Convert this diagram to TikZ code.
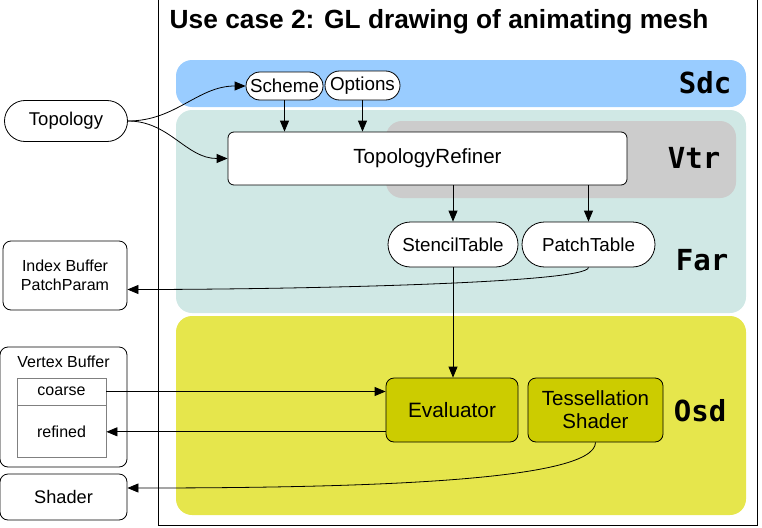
\documentclass[tikz,border=0pt]{standalone}
\usepackage{fontspec}
\setmainfont{Liberation Sans}
\newfontfamily\codefont{DejaVu Sans Mono}
\usetikzlibrary{arrows.meta,shapes.misc,positioning}
\definecolor{sdcblue}{HTML}{99CCFF}
\definecolor{farteal}{HTML}{D0E8E5}
\definecolor{vtrgray}{HTML}{CCCCCC}
\definecolor{osdyellow}{HTML}{E6E64C}
\definecolor{osdbox}{HTML}{CCCC00}

\begin{document}
\begin{tikzpicture}[x=1pt,y=-1pt,>={Triangle[length=11pt,width=9pt]},thick]
  \tikzstyle{pill}=[rounded rectangle,draw=black,fill=white,inner sep=0pt,font=\fontsize{18.8}{21}\selectfont]
  \tikzstyle{box}=[rectangle,rounded corners=8pt,draw=black,fill=white,inner sep=0pt,align=center,font=\fontsize{16}{19}\selectfont]
  \tikzstyle{cell}=[rectangle,draw=gray,fill=white,inner sep=0pt,minimum width=89pt,font=\fontsize{16}{19}\selectfont]
  \tikzstyle{layer}=[rounded corners=16pt]
  \tikzstyle{layername}=[font=\codefont\bfseries\fontsize{29}{34}\selectfont]
  \useasboundingbox (0,0) rectangle (762,527);

  % frame and title
  \draw[semithick] (158,0) -- (158,525) -- (757,525) -- (757,0);
  \node[anchor=base west,font=\bfseries\fontsize{26.3}{31}\selectfont] (title) at (166,29) {Use case 2: GL drawing of animating mesh};

  % layers
  \fill[layer,sdcblue] (176,60) rectangle (746,107);
  \fill[layer,farteal] (176,110) rectangle (746,313);
  \fill[layer,vtrgray] (386,121) rectangle (736,198);
  \fill[layer,osdyellow] (176,316) rectangle (746,515);
  \foreach \name/\x/\y in {Sdc/735/83, Vtr/724/158, Far/732/260, Osd/730/411}
    \node[layername,anchor=east] (L-\name) at (\x,\y) {\name};

  % nodes
  \node[pill,minimum width=123pt,minimum height=41pt,font=\fontsize{18.5}{21}\selectfont] (topo) at (66,121) {Topology};
  \node[pill,minimum width=77pt,minimum height=28pt] (scheme) at (284.5,86) {Scheme};
  \node[pill,minimum width=75pt,minimum height=29pt] (options) at (362.5,85.5) {Options};
  \node[box,rounded corners=6pt,minimum width=399pt,minimum height=53pt,font=\fontsize{20.5}{24}\selectfont] (refiner) at (427.5,158.5) {TopologyRefiner};
  \node[pill,minimum width=130pt,minimum height=45pt] (stencil) at (453,244.5) {StencilTable};
  \node[pill,minimum width=133pt,minimum height=45pt] (patch) at (588.5,244.5) {PatchTable};

  \node[box,minimum width=124pt,minimum height=69pt] (index) at (65,275.5) {Index Buffer\\PatchParam};
  \node[box,minimum width=127pt,minimum height=120pt] (vbuf) at (63.5,407) {};
  \node[font=\fontsize{16}{19}\selectfont] (vbuftitle) at (63.5,362) {Vertex Buffer};
  \node[cell,minimum height=27pt] (coarse) at (61.5,391.5) {coarse};
  \node[cell,minimum height=52pt,anchor=north] (refined) at (coarse.south) {refined};
  \node[box,minimum width=127pt,minimum height=46pt,font=\fontsize{18.2}{21}\selectfont] (shader) at (63.5,497) {Shader};

  \node[box,fill=osdbox,minimum width=132pt,minimum height=64pt,font=\fontsize{20.8}{23}\selectfont] (eval) at (452,410) {Evaluator};
  \node[box,fill=osdbox,minimum width=135pt,minimum height=64pt,font=\fontsize{20.5}{23}\selectfont] (tess) at (595.5,410) {Tessellation\\Shader};

  % connectors
  \draw[->] (topo.east) to[out=0,in=180] (scheme.west);
  \draw[->] (topo.east) to[out=0,in=180] (refiner.west);
  \foreach \from in {scheme,options}
    \draw[->] (\from.south) -- (\from.south |- refiner.north);
  \foreach \to in {stencil,patch}
    \draw[->] (\to.north |- refiner.south) -- (\to.north);
  \draw[->] (patch.south) .. controls +(0,16) and +(160,0) .. ([yshift=-14pt]index.east);
  \draw[->] (stencil.south) -- (stencil.south |- eval.north);
  \draw[->] (coarse.east) -- (coarse.east -| eval.west);
  \draw[->] (eval.west |- refined.east) -- (refined.east);
  \draw[->] (tess.south) .. controls +(0,40) and +(220,0) .. ([yshift=9pt]shader.east);
\end{tikzpicture}
\end{document}
